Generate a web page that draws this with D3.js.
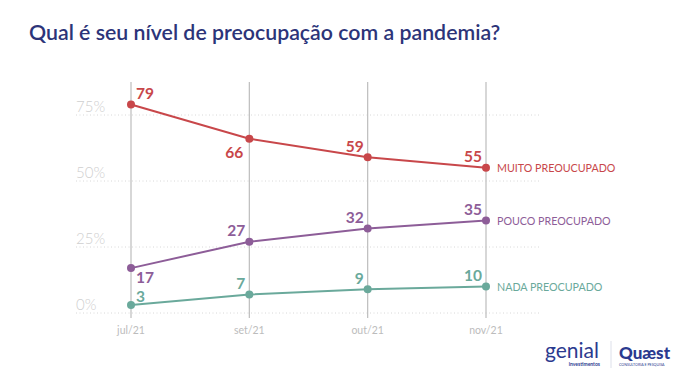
<!DOCTYPE html>
<html>
<head>
<meta charset="utf-8">
<script src="https://cdn.jsdelivr.net/npm/d3@7"></script>
<style>
  body { margin: 0; background: #fff; }
  svg { display: block; font-family: "Lato", sans-serif; }
</style>
</head>
<body>
<svg id="chart" width="680" height="377"></svg>
<script>
let months = ["jul/21", "set/21", "out/21", "nov/21"];
let muito = [79, 66, 59, 55];
let pouco = [17, 27, 32, 35];
let nada = [3, 7, 9, 10];
let seriesNames = ["MUITO PREOUCUPADO", "POUCO PREOCUPADO", "NADA PREOCUPADO"];
let yTicks = [0, 25, 50, 75];

let colors = ["#c8474a", "#8d5d98", "#6aa99b"];
let series = [muito, pouco, nada];

let svg = d3.select("#chart");

svg.append("text")
    .attr("x", 29)
    .attr("y", 40)
    .text("Qual é seu nível de preocupação com a pandemia?")
    .style("font-size", "21.3px")
    .style("font-weight", 600)
    .style("fill", "#2c3479");

let x = d3.scalePoint()
    .domain(months)
    .range([131, 486]);

let y = d3.scaleLinear()
    .domain([0, 75])
    .range([313, 115]);

// dotted horizontal grid + tick labels
let grid = svg.append("g");
yTicks.forEach(function(t) {
    grid.append("line")
        .attr("x1", 76)
        .attr("x2", 540)
        .attr("y1", y(t))
        .attr("y2", y(t))
        .style("stroke", "#d8d8d8")
        .style("stroke-width", 1)
        .style("stroke-dasharray", "1,2.5");
    grid.append("text")
        .attr("x", 76)
        .attr("y", y(t) - 3)
        .text(t + "%")
        .style("font-size", "15px")
        .style("font-weight", 300)
        .style("fill", "#cfcfcf");
});

// vertical month lines + labels
months.forEach(function(m) {
    svg.append("line")
        .attr("x1", x(m))
        .attr("x2", x(m))
        .attr("y1", 82)
        .attr("y2", y(0) + 5)
        .style("stroke", "#bdbdbd")
        .style("stroke-width", 1.2);
    svg.append("text")
        .attr("x", x(m))
        .attr("y", 334)
        .attr("text-anchor", "middle")
        .text(m)
        .style("font-size", "10.5px")
        .style("fill", "#bcbcbc");
});

let line = d3.line()
    .x(function(d, i) { return x(months[i]); })
    .y(function(d) { return y(d); });

// where each value label sits relative to its point (dy = label centre)
function labelPlace(s, i) {
    if (i == 0) {
        if (s == 1) return {dx: 5, dy: 9, anchor: "start"};
        if (s == 2) return {dx: 5, dy: -9, anchor: "start"};
        return {dx: 5, dy: -11, anchor: "start"};
    }
    if (s == 0 && i == 1) return {dx: -6, dy: 14, anchor: "end"};
    return {dx: -4, dy: -11, anchor: "end"};
}

series.forEach(function(vals, s) {
    let g = svg.append("g");
    g.append("path")
        .attr("d", line(vals))
        .style("fill", "none")
        .style("stroke", colors[s])
        .style("stroke-width", 2);
    g.selectAll("circle")
        .data(vals)
        .enter().append("circle")
        .attr("cx", function(d, i) { return x(months[i]); })
        .attr("cy", function(d) { return y(d); })
        .attr("r", 4)
        .style("fill", colors[s]);
    g.selectAll("text.val")
        .data(vals)
        .enter().append("text")
        .attr("class", "val")
        .attr("x", function(d, i) { return x(months[i]) + labelPlace(s, i).dx; })
        .attr("y", function(d, i) { return y(d) + labelPlace(s, i).dy + 5.5; })
        .attr("text-anchor", function(d, i) { return labelPlace(s, i).anchor; })
        .text(function(d) { return d; })
        .style("font-size", "15.5px")
        .style("font-weight", 700)
        .style("fill", colors[s]);
    g.append("text")
        .attr("x", x(months[3]) + 11)
        .attr("y", y(vals[3]) + 4)
        .text(seriesNames[s])
        .style("font-size", "10.7px")
        .style("fill", colors[s]);
});

// logos
let logo = svg.append("g");
logo.append("text")
    .attr("x", 545)
    .attr("y", 358)
    .text("genial")
    .style("font-size", "21px")
    .style("fill", "#2b3a8f");
logo.append("text")
    .attr("x", 600)
    .attr("y", 366)
    .attr("text-anchor", "end")
    .text("investimentos")
    .style("font-size", "5px")
    .style("font-weight", 700)
    .style("fill", "#2b3a8f");
logo.append("line")
    .attr("x1", 611).attr("x2", 611)
    .attr("y1", 341).attr("y2", 368)
    .style("stroke", "#dde0ea")
    .style("stroke-width", 1);
logo.append("text")
    .attr("x", 619)
    .attr("y", 359)
    .text("Quæst")
    .style("font-size", "17px")
    .style("font-weight", 900)
    .style("fill", "#2b3a8f");
logo.append("text")
    .attr("x", 619)
    .attr("y", 366)
    .text("CONSULTORIA E PESQUISA")
    .style("font-size", "3.6px")
    .style("fill", "#2b3a8f");
</script>
</body>
</html>
